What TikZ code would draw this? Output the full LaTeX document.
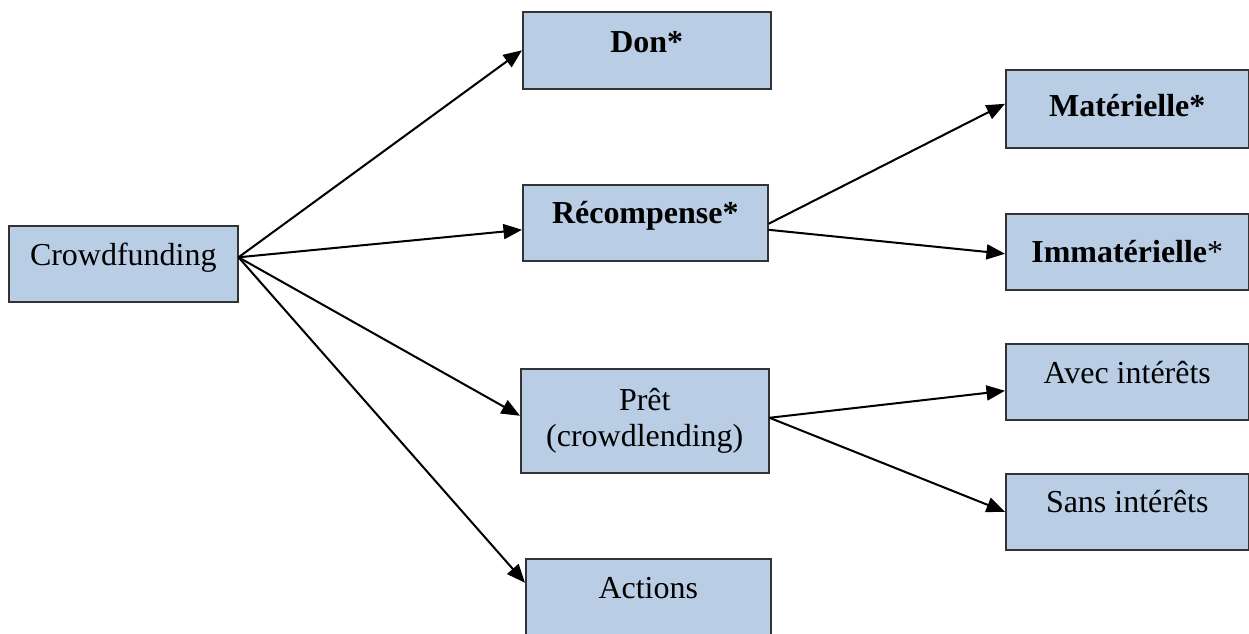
\documentclass[tikz,border=0pt]{standalone}
\usepackage{fontspec}
\setmainfont{Liberation Serif}
\usetikzlibrary{arrows.meta}

\definecolor{bleuboite}{RGB}{185,205,229}
\tikzset{
  boite/.style={draw=black!80, line width=0.9pt, fill=bleuboite, inner sep=0pt,
    anchor=north west, font=\fontsize{18.2}{21}\selectfont},
  simple/.style={boite, text height=0.8cm, text depth=0.72cm},
  fleche/.style={-{Triangle[length=0.37cm,width=0.3cm]}, line width=1.15pt}
}

\begin{document}
\begin{tikzpicture}[x=0.02cm,y=-0.02cm]

% Page frame (pixels of the original)
\useasboundingbox (0,0) rectangle (1249,633);

% The root box
\node[simple, minimum width=4.58cm] (crowd) at (8,225) {Crowdfunding};

% First level: the four kinds
\node[simple, minimum width=4.96cm, text height=0.82cm] (don) at (522,11) {\textbf{Don*}};
\node[simple, minimum width=4.9cm, text height=0.78cm, text depth=0.74cm] (recomp) at (522,184) {\textbf{Récompense*}};
\node[boite, minimum width=4.96cm, minimum height=2.08cm, align=center] (pret) at (520,368) {Prêt\\(crowdlending)};
\node[simple, minimum width=4.9cm] (actions) at (525,558) {Actions};

% Second level
\node[simple, minimum width=4.86cm, text height=0.94cm, text depth=0.62cm] (mat) at (1005,69) {\textbf{Matérielle*}};
\node[simple, minimum width=4.86cm, text height=0.98cm, text depth=0.54cm] (immat) at (1005,213) {\textbf{Immatérielle}*};
\node[simple, minimum width=4.86cm] (avec) at (1005,343) {Avec intérêts};
\node[simple, minimum width=4.86cm, text height=0.78cm, text depth=0.74cm] (sans) at (1005,473) {Sans intérêts};

% Arrows out of the root
\coordinate (depart) at ([yshift=0.13cm]crowd.east);
\draw[fleche] (depart) -- (don.west);
\draw[fleche] (depart) -- ([yshift=-0.14cm]recomp.west);
\draw[fleche] (depart) -- ([yshift=0.1cm]pret.west);
\draw[fleche] (depart) -- ([yshift=0.28cm]actions.west);

% Arrows of the second level
\draw[fleche] ([yshift=-0.02cm]recomp.east) -- ([yshift=0.1cm]mat.west);
\draw[fleche] ([yshift=-0.14cm]recomp.east) -- ([yshift=-0.04cm]immat.west);
\draw[fleche] ([yshift=0.06cm]pret.east) -- ([yshift=-0.18cm]avec.west);
\draw[fleche] ([yshift=0.06cm]pret.east) -- (sans.west);

\end{tikzpicture}
\end{document}
